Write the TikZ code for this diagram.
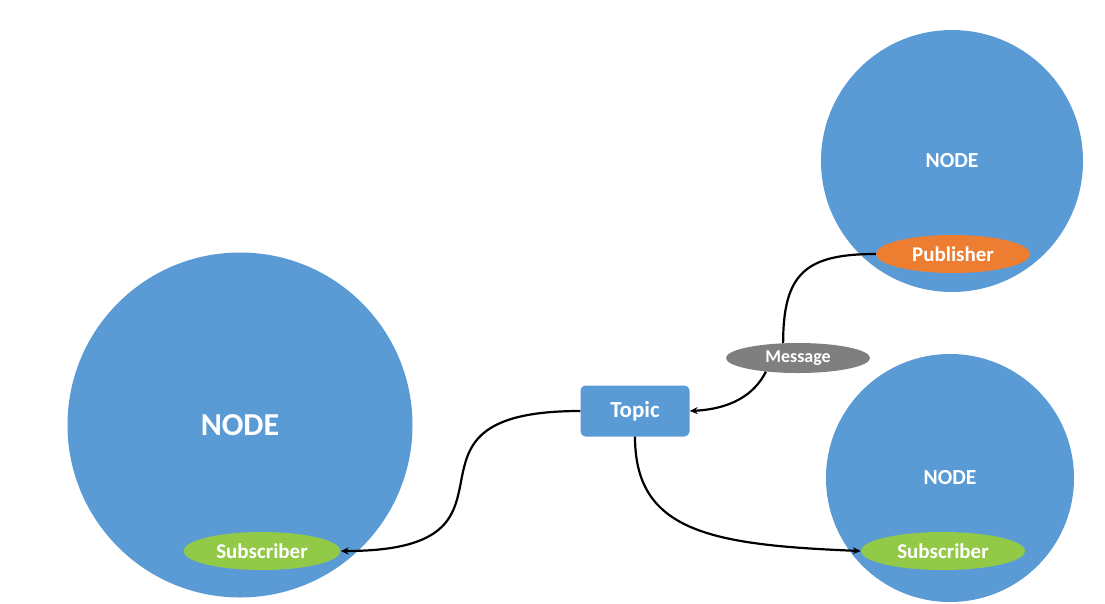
\documentclass[tikz,border=0pt]{standalone}
\usepackage{fontspec}
\setmainfont{Carlito}
\usetikzlibrary{shapes.geometric,arrows.meta}
\definecolor{nodeblue}{HTML}{5B9BD5}
\definecolor{puborange}{HTML}{ED7D31}
\definecolor{subgreen}{HTML}{92C947}
\definecolor{msggray}{HTML}{7F7F7F}
\tikzset{
  rosnode/.style={circle, fill=nodeblue, draw=none, inner sep=0pt},
  nodelabel/.style={text=white, font=\bfseries\fontsize{21.5}{21.5}\selectfont},
  pill/.style={ellipse, draw=none, inner sep=0pt, text=white, font=\bfseries\fontsize{21}{21}\selectfont},
  topicbox/.style={rectangle, rounded corners=5pt, fill=nodeblue, draw=none, text=white,
    minimum width=109pt, minimum height=51pt, inner sep=0pt, font=\bfseries\fontsize{23}{23}\selectfont},
  link/.style={line width=2.2pt, black},
  tip/.style={-{Stealth[length=8pt,width=7pt]}}
}
\begin{document}
\begin{tikzpicture}[x=1pt,y=-1pt]
\useasboundingbox[fill=white] (0,0) rectangle (1105,603);

% the three nodes
\node[rosnode, minimum size=345pt] (bignode) at (240,425) {};
\node[nodelabel, font=\bfseries\fontsize{32}{32}\selectfont] (bignodelabel) at (240,425) {NODE};
\node[rosnode, minimum size=262pt] (pubnode) at (952,161) {};
\node[nodelabel] (pubnodelabel) at (952,161) {NODE};
\node[rosnode, minimum size=248pt] (subnode) at (950,478) {};
\node[nodelabel] (subnodelabel) at (950,478) {NODE};

% publisher / subscribers
\node[pill, fill=puborange, minimum width=154pt, minimum height=38pt] (pub) at (953,254) {Publisher};
\node[pill, fill=subgreen, minimum width=157pt, minimum height=38pt] (subl) at (262,551) {Subscriber};
\node[pill, fill=subgreen, minimum width=164pt, minimum height=38pt] (subr) at (943,551) {Subscriber};

% topic and message
\node[topicbox] (topic) at (635,411) {Topic};
\node[pill, fill=msggray, minimum width=144pt, minimum height=30pt, font=\bfseries\fontsize{18}{18}\selectfont] (msg) at (798,358) {Message};

% connectors
\draw[link] (pub.west) .. controls +(-70,0) and +(0,-70) .. (msg.135);
\draw[link, tip] (msg.203) .. controls +(-12,24) and +(40,-2) .. (topic.east);
\draw[link, tip] (topic.west) .. controls +(-210,0) and +(210,0) .. (subl.east);
\draw[link, tip] (topic.south) .. controls +(0,95) and +(-150,-6) .. (subr.west);
\end{tikzpicture}
\end{document}
